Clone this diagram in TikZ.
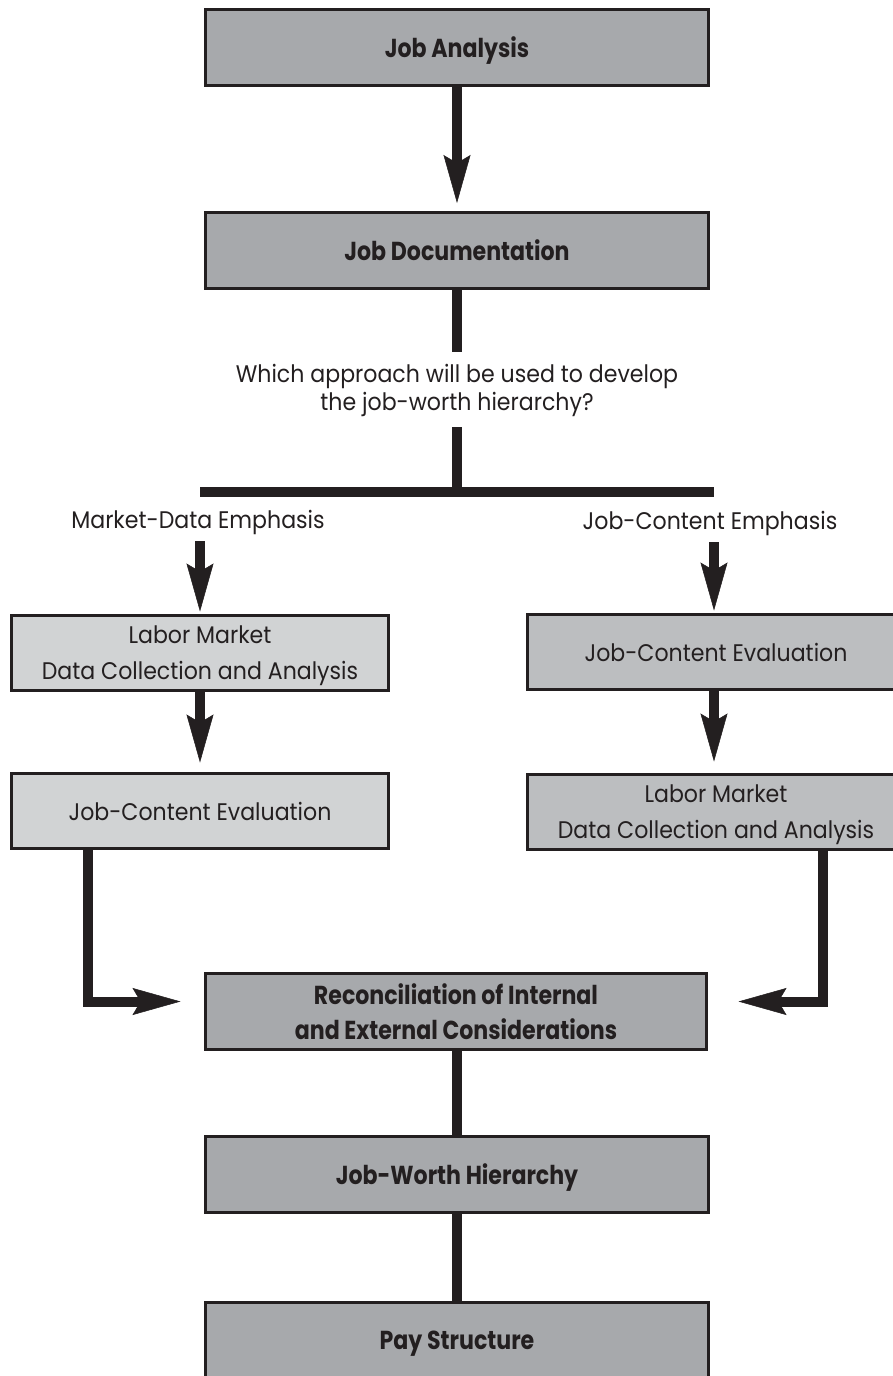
\documentclass[tikz,border=0pt]{standalone}
\usepackage{fontspec}
\setmainfont{Poppins}
\newfontfamily\regfont[FakeStretch=0.92]{Poppins}
\newfontfamily\hvyfont[FakeStretch=0.85]{Poppins}
\usetikzlibrary{arrows.meta}
\definecolor{ink}{HTML}{231F20}
\definecolor{dgray}{HTML}{A7A9AC}
\definecolor{lgray}{HTML}{D1D3D4}
\definecolor{mgray}{HTML}{BCBEC0}
\begin{document}
\begin{tikzpicture}[x=1pt,y=-1pt,
  boxbase/.style={draw=ink, line width=3pt, text=ink, inner sep=0pt, align=center, text depth=0pt},
  darkbox/.style={boxbase, fill=dgray, minimum width=503pt, minimum height=76pt,
     font=\hvyfont\bfseries\fontsize{26}{35}\selectfont},
  leftbox/.style={boxbase, fill=lgray, minimum width=377pt, minimum height=75pt,
     font=\regfont\fontsize{24}{36}\selectfont},
  rightbox/.style={boxbase, fill=mgray, minimum width=377pt, minimum height=75pt,
     font=\regfont\fontsize{24}{36}\selectfont},
  lbl/.style={text=ink, inner sep=0pt, align=center, font=\regfont\fontsize{24}{28}\selectfont},
  conn/.style={draw=ink, line width=10pt},
  arr/.style={conn, -{Stealth[length=48pt,width=27pt,inset=8pt,line width=0.5pt]}},
]
\useasboundingbox (0,0) rectangle (893,1376);
\clip (0,0) rectangle (893,1376);
\fill[white] (0,0) rectangle (893,1376);

% boxes
\node[darkbox] (ja) at (457,47.5) {Job Analysis};
\node[darkbox] (jd) at (457,250) {Job Documentation};
\node[leftbox] (l1) at (200,653) {Labor Market\\Data Collection and Analysis};
\node[leftbox] (l2) at (200,811) {Job-Content Evaluation};
\node[rightbox] (r1) at (716,652) {Job-Content Evaluation};
\node[rightbox] (r2) at (716,812) {Labor Market\\Data Collection and Analysis};
\node[darkbox, minimum width=501pt] (rc) at (456,1011.5) {Reconciliation of Internal\\and External Considerations};
\node[darkbox] (jw) at (457,1174) {Job-Worth Hierarchy};
\node[darkbox] (ps) at (457,1340.5) {Pay Structure};

% labels
\node[lbl] (q) at (457,390) {Which approach will be used to develop\\the job-worth hierarchy?};
\node[lbl] (mde) at (198,522) {Market-Data Emphasis};
\node[lbl] (jce) at (710,523) {Job-Content Emphasis};

% helper coordinates
\coordinate (q1) at (457,352);
\coordinate (q2) at (457,427);
\coordinate (bl) at (200,492);
\coordinate (bc) at (457,492);
\coordinate (br) at (714,492);
\coordinate (la) at (200,541);
\coordinate (ra) at (714,542);
\coordinate (lc) at (87.5,1001.5);
\coordinate (rcn) at (823,1001.5);

% connectors
\draw[arr, shorten >=7.5pt] (ja.south) -- (jd.north);
\draw[conn] (jd.south) -- (q1);
\draw[conn] (q2) -- (bc);
\draw[conn] (bl) -- (br);
\draw[arr, shorten >=2.5pt] (la) -- (la |- l1.north);
\draw[arr, shorten >=9.5pt] (l1.south) -- (l2.north);
\draw[arr, shorten >=2.5pt] (ra) -- (ra |- r1.north);
\draw[arr, shorten >=11.5pt] (ra |- r1.south) -- (ra |- r2.north);
\draw[arr, line join=miter, shorten >=23.5pt] (lc |- l2.south) -- (lc) -- (rc.west |- lc);
\draw[arr, line join=miter, shorten >=30.5pt] (rcn |- r2.south) -- (rcn) -- (rc.east |- rcn);
\draw[conn] (jw.north |- rc.south) -- (jw.north);
\draw[conn] (jw.south) -- (ps.north);
\end{tikzpicture}
\end{document}
